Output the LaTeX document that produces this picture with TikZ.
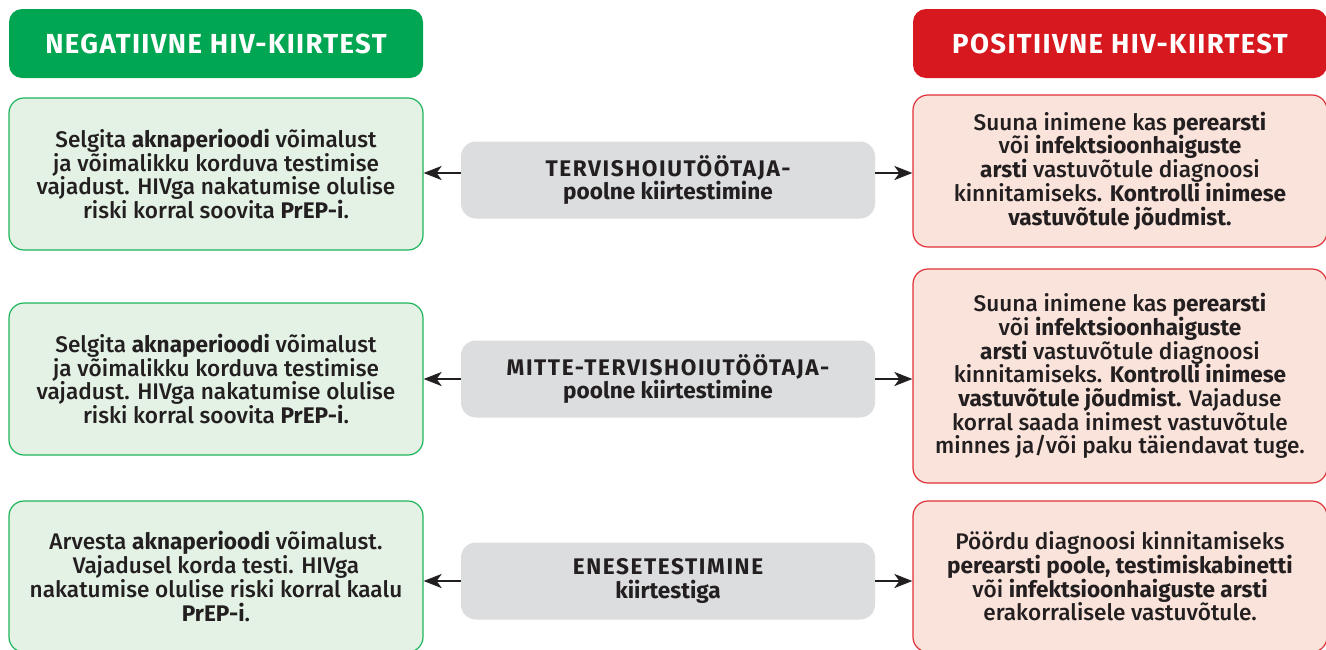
\documentclass[tikz,border=0pt]{standalone}
\usepackage{fontspec}
\setmainfont{Fira Sans}[UprightFont=* Medium, BoldFont=* Bold]
\usetikzlibrary{arrows.meta}
\definecolor{txt}{HTML}{231F20}
\definecolor{hgreen}{HTML}{00A651}
\definecolor{hred}{HTML}{D7181F}
\definecolor{gfill}{HTML}{E3F2E5}
\definecolor{gline}{HTML}{1DB45A}
\definecolor{rfill}{HTML}{FAE3DA}
\definecolor{rline}{HTML}{E03038}
\definecolor{mfill}{HTML}{DCDDDF}
\tikzset{
  hdr/.style={rounded corners=13pt, minimum width=414pt, minimum height=69pt, inner sep=0pt,
    text=white, font=\fontsize{27.5}{30}\selectfont\bfseries\addfontfeatures{LetterSpace=5}},
  gbox/.style={draw=gline, line width=1.2pt, fill=gfill, rounded corners=15pt, minimum width=414pt,
    inner sep=0pt, align=center, text=txt, font=\fontsize{22.6}{23.7}\selectfont},
  rbox/.style={draw=rline, line width=1.2pt, fill=rfill, rounded corners=15pt, minimum width=414pt,
    inner sep=0pt, align=center, text=txt, font=\fontsize{22.6}{23.7}\selectfont},
  mbox/.style={fill=mfill, rounded corners=15pt, minimum width=414pt, minimum height=77pt,
    inner sep=0pt, align=center, text=txt, font=\fontsize{22.6}{23.5}\selectfont\bfseries},
  arr/.style={draw=txt, line width=2.6pt, -{Stealth[length=18pt,width=14pt,inset=5pt]}},
}
\newcommand{\caps}[1]{{\addfontfeatures{LetterSpace=7}#1}}
\begin{document}
\begin{tikzpicture}[x=1pt,y=-1pt]
\clip (0,0) rectangle (1326,649);
\fill[white] (0,0) rectangle (1326,649);
% headers
\node[hdr, fill=hgreen] (hg) at (216,43.5) {NEGATIIVNE HIV-KIIRTEST};
\node[hdr, fill=hred] (hr) at (1120,43.5) {POSITIIVNE HIV-KIIRTEST};
% row 1
\node[gbox, minimum height=152pt] (l1) at (216,174) {Selgita \textbf{aknaperioodi} võimalust\\ja võimalikku korduva testimise\\vajadust. HIVga nakatumise olulise\\riski korral soovita \textbf{PrEP-i}.};
\node[mbox] (m1) at (668,180) {\caps{TERVISHOIUTÖÖTAJA-}\\poolne kiirtestimine};
\node[rbox, minimum height=152pt] (r1) at (1120,171) {Suuna inimene kas \textbf{perearsti}\\või \textbf{infektsioonhaiguste}\\\textbf{arsti} vastuvõtule diagnoosi\\kinnitamiseks. \textbf{Kontrolli inimese}\\\textbf{vastuvõtule jõudmist.}};
% row 2
\node[gbox, minimum height=152pt] (l2) at (216,379) {Selgita \textbf{aknaperioodi} võimalust\\ja võimalikku korduva testimise\\vajadust. HIVga nakatumise olulise\\riski korral soovita \textbf{PrEP-i}.};
\node[mbox] (m2) at (668,379) {\caps{MITTE-TERVISHOIUTÖÖTAJA-}\\poolne kiirtestimine};
\node[rbox, minimum height=214pt] (r2) at (1120,376) {Suuna inimene kas \textbf{perearsti}\\või \textbf{infektsioonhaiguste}\\\textbf{arsti} vastuvõtule diagnoosi\\kinnitamiseks. \textbf{Kontrolli inimese}\\\textbf{vastuvõtule jõudmist.} Vajaduse\\korral saada inimest vastuvõtule\\minnes ja/või paku täiendavat tuge.};
% row 3
\node[gbox, minimum height=151pt] (l3) at (216,576.5) {Arvesta \textbf{aknaperioodi} võimalust.\\Vajadusel korda testi. HIVga\\nakatumise olulise riski korral kaalu\\\textbf{PrEP-i}.};
\node[mbox] (m3) at (668,581) {\caps{ENESETESTIMINE}\\kiirtestiga};
\node[rbox, minimum height=151pt] (r3) at (1120,576.5) {Pöördu diagnoosi kinnitamiseks\\\textbf{perearsti poole, testimiskabinetti}\\või \textbf{infektsioonhaiguste arsti}\\erakorralisele vastuvõtule.};
% arrows
\draw[arr] ([yshift=7pt]m1.west) -- ([yshift=7pt]m1.west -| l1.east);
\draw[arr] ([yshift=7pt]m1.east) -- ([yshift=7pt]m1.east -| r1.west);
\draw[arr] (m2.west) -- (m2.west -| l2.east);
\draw[arr] (m2.east) -- (m2.east -| r2.west);
\draw[arr] (m3.west) -- (m3.west -| l3.east);
\draw[arr] (m3.east) -- (m3.east -| r3.west);
\end{tikzpicture}
\end{document}
